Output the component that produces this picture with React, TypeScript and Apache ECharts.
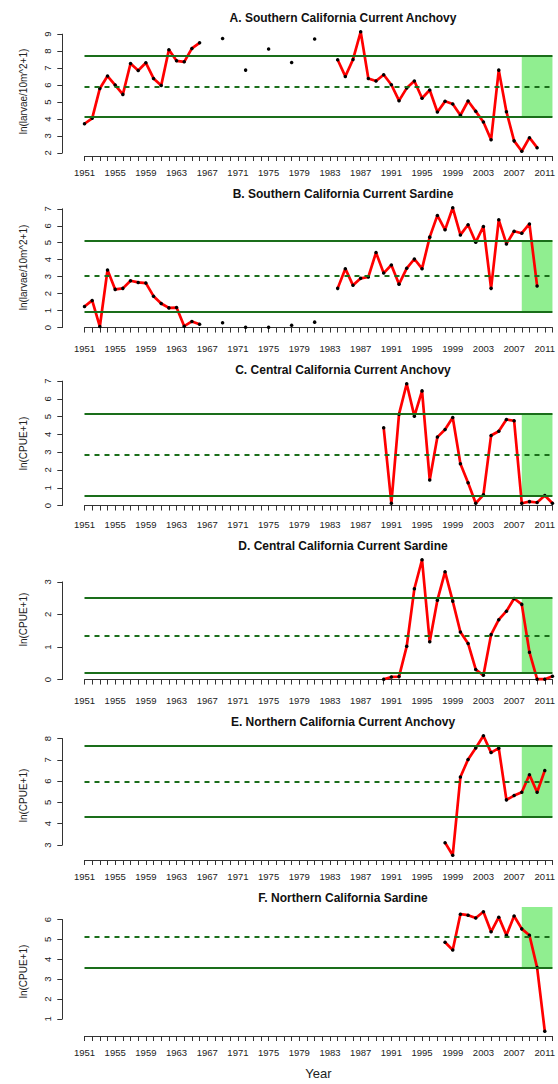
import { useEffect, useRef } from "react";
import * as echarts from "echarts";

// ---- panel texts ----
const panelTitles = [
  "A. Southern California Current Anchovy",
  "B. Southern California Current Sardine",
  "C. Central California Current Anchovy",
  "D. Central California Current Sardine",
  "E. Northern California Current Anchovy",
  "F. Northern California Sardine",
];
const yAxisTitles = [
  "ln(larvae/10m^2+1)",
  "ln(larvae/10m^2+1)",
  "ln(CPUE+1)",
  "ln(CPUE+1)",
  "ln(CPUE+1)",
  "ln(CPUE+1)",
];

// ---- survey years and index values ----
const yearsSouth = [
  1951, 1952, 1953, 1954, 1955, 1956, 1957, 1958, 1959, 1960, 1961, 1962, 1963, 1964, 1965, 1966,
  1969, 1972, 1975, 1978, 1981,
  1984, 1985, 1986, 1987, 1988, 1989, 1990, 1991, 1992, 1993, 1994, 1995, 1996, 1997, 1998, 1999,
  2000, 2001, 2002, 2003, 2004, 2005, 2006, 2007, 2008, 2009, 2010,
];
const anchovySouth = [
  3.72, 4.04, 5.8, 6.53, 6.0, 5.45, 7.27, 6.86, 7.31, 6.39, 5.98, 8.08, 7.43, 7.37, 8.16, 8.49,
  8.75, 6.88, 8.12, 7.33, 8.71,
  7.49, 6.51, 7.51, 9.14, 6.39, 6.24, 6.61, 6.02, 5.08, 5.82, 6.24, 5.22, 5.71, 4.41, 5.04, 4.88,
  4.22, 5.06, 4.45, 3.82, 2.78, 6.88, 4.43, 2.71, 2.1, 2.9, 2.31,
];
const sardineSouth = [
  1.24, 1.6, 0.06, 3.39, 2.25, 2.31, 2.76, 2.66, 2.62, 1.85, 1.42, 1.16, 1.18, 0.08, 0.36, 0.2,
  0.28, 0.02, 0.02, 0.14, 0.32,
  2.31, 3.47, 2.49, 2.9, 2.98, 4.42, 3.21, 3.69, 2.56, 3.49, 4.04, 3.47, 5.33, 6.61, 5.76, 7.06,
  5.46, 6.06, 5.03, 5.96, 2.31, 6.35, 4.93, 5.68, 5.56, 6.11, 2.45,
];

const yearsCentral = [
  1990, 1991, 1992, 1993, 1994, 1995, 1996, 1997, 1998, 1999, 2000, 2001, 2002, 2003, 2004, 2005,
  2006, 2007, 2008, 2009, 2010, 2011, 2012,
];
const anchovyCentral = [
  4.37, 0.13, 5.14, 6.85, 5.03, 6.45, 1.44, 3.85, 4.28, 4.95, 2.35, 1.28, 0.13, 0.6, 3.94, 4.18,
  4.84, 4.77, 0.13, 0.22, 0.17, 0.56, 0.13,
];
const sardineCentral = [
  0.01, 0.08, 0.09, 1.02, 2.79, 3.68, 1.16, 2.44, 3.31, 2.41, 1.46, 1.11, 0.31, 0.13, 1.38, 1.84,
  2.1, 2.49, 2.31, 0.84, 0.01, 0.01, 0.1,
];

const yearsNorth = [1998, 1999, 2000, 2001, 2002, 2003, 2004, 2005, 2006, 2007, 2008, 2009, 2010, 2011];
const anchovyNorth = [3.11, 2.52, 6.19, 7.02, 7.56, 8.13, 7.34, 7.55, 5.12, 5.32, 5.48, 6.3, 5.48, 6.5];
const sardineNorth = [4.86, 4.47, 6.27, 6.22, 6.08, 6.39, 5.38, 6.12, 5.21, 6.18, 5.53, 5.21, 3.58, 0.38];

const panelYears = [yearsSouth, yearsSouth, yearsCentral, yearsCentral, yearsNorth, yearsNorth];
const panelValues = [anchovySouth, sardineSouth, anchovyCentral, sardineCentral, anchovyNorth, sardineNorth];

// long-term mean and +/- 1 s.d. band of each index
const bandMean = [5.92, 3.04, 2.85, 1.355, 5.99, 5.13];
const bandLower = [4.12, 0.95, 0.53, 0.2, 4.33, 3.55];
const bandUpper = [7.73, 5.13, 5.18, 2.51, 7.64, 6.71];

// recent period highlighted in green
const recentStart = 2008;
const recentEnd = 2012;

const yearMin = 1951;
const yearMax = 2012;
const yearLabelStep = 4;

// ---- layout ----
const W = 558;
const H = 1084;
const AXIS_X = 62.3;
const PLOT_LEFT = 84.5;
const PLOT_RIGHT = 554.2;
const PLOT_TOP0 = 27;
const PLOT_PITCH = 176;
const PLOT_H = 129;
const TITLE_X = 343;

const FONT = "'Liberation Sans', Arial, Helvetica, sans-serif";
const INK = "#222";
const RED = "#ff0000";
const GREEN = "#1a6e1a";
const SHADE = "#90ee90";

// line broken wherever a year is skipped
function withBreaks(years: number[], values: number[]) {
  const out: (number | null)[][] = [];
  years.forEach((y, i) => {
    if (i > 0 && y - years[i - 1] > 1) out.push([y - 1, null]);
    out.push([y, values[i]]);
  });
  return out;
}

function buildOption() {
  const grid: any[] = [];
  const xAxis: any[] = [];
  const yAxis: any[] = [];
  const series: any[] = [];
  const graphic: any[] = [];

  panelValues.forEach((vals, i) => {
    const top = PLOT_TOP0 + PLOT_PITCH * i;
    const lo = Math.min(...vals);
    const hi = Math.max(...vals);
    const pad = (hi - lo) * 0.04;
    const u0 = lo - pad;
    const u1 = hi + pad;
    const t0 = Math.ceil(u0);
    const t1 = Math.floor(u1);
    const pxPerUnit = PLOT_H / (u1 - u0);
    const axisTop = top + (u1 - t1) * pxPerUnit;
    const axisH = (t1 - t0) * pxPerUnit;

    const gPlot = grid.length;
    grid.push({ left: PLOT_LEFT, width: PLOT_RIGHT - PLOT_LEFT, top, height: PLOT_H });
    const gAxis = grid.length;
    grid.push({ left: AXIS_X, width: 10, top: axisTop, height: axisH });

    const xPlot = xAxis.length;
    xAxis.push({
      gridIndex: gPlot,
      type: "value",
      min: yearMin,
      max: yearMax,
      interval: 1,
      axisLine: { show: true, lineStyle: { color: "#333", width: 1 } },
      axisTick: { show: true, length: 5, lineStyle: { color: "#333", width: 1 } },
      axisLabel: {
        show: true,
        margin: 11,
        fontSize: 9.5,
        fontFamily: FONT,
        color: INK,
        formatter: (v: number) => ((v - yearMin) % yearLabelStep === 0 ? String(v) : ""),
      },
      splitLine: { show: false },
      name: i === panelValues.length - 1 ? "Year" : "",
      nameLocation: "middle",
      nameGap: 31,
      nameTextStyle: { fontSize: 13, fontFamily: FONT, color: INK },
    });
    xAxis.push({ gridIndex: gAxis, type: "value", min: 0, max: 1, show: false });

    const yPlot = yAxis.length;
    yAxis.push({
      gridIndex: gPlot,
      type: "value",
      min: u0,
      max: u1,
      offset: PLOT_LEFT - AXIS_X,
      axisLine: { show: false },
      axisTick: { show: false },
      axisLabel: { show: false },
      splitLine: { show: false },
      name: yAxisTitles[i],
      nameLocation: "middle",
      nameGap: 34,
      nameTextStyle: { fontSize: 10, fontFamily: FONT, color: INK },
    });
    yAxis.push({
      gridIndex: gAxis,
      type: "value",
      min: t0,
      max: t1,
      interval: 1,
      axisLine: { show: true, lineStyle: { color: "#333", width: 1 } },
      axisTick: { show: true, length: 5, lineStyle: { color: "#333", width: 1 } },
      axisLabel: { show: true, rotate: 90, margin: 10, fontSize: 9.5, fontFamily: FONT, color: INK },
      splitLine: { show: false },
    });

    // shaded recent period between the band limits
    series.push({
      type: "line",
      xAxisIndex: xPlot,
      yAxisIndex: yPlot,
      data: [],
      silent: true,
      z: 1,
      markArea: {
        silent: true,
        itemStyle: { color: SHADE, opacity: 1 },
        data: [
          [
            { xAxis: recentStart, yAxis: Math.max(bandLower[i], u0) },
            { xAxis: recentEnd, yAxis: Math.min(bandUpper[i], u1) },
          ],
        ],
      },
    });

    // mean (dashed) and +/- 1 s.d. (solid) reference lines
    const bands = [
      { v: bandLower[i], dash: false },
      { v: bandMean[i], dash: true },
      { v: bandUpper[i], dash: false },
    ].filter((b) => b.v >= u0 && b.v <= u1);
    series.push({
      type: "line",
      xAxisIndex: xPlot,
      yAxisIndex: yPlot,
      data: [],
      silent: true,
      z: 2,
      markLine: {
        silent: true,
        symbol: "none",
        label: { show: false },
        animation: false,
        data: bands.map((b) => ({
          yAxis: b.v,
          lineStyle: { color: GREEN, width: 2, type: b.dash ? [5, 5] : "solid" },
        })),
      },
    });

    // index time series
    series.push({
      type: "line",
      xAxisIndex: xPlot,
      yAxisIndex: yPlot,
      data: withBreaks(panelYears[i], vals),
      connectNulls: false,
      z: 3,
      symbol: "circle",
      symbolSize: 3.5,
      showSymbol: true,
      lineStyle: { color: RED, width: 2.7 },
      itemStyle: { color: "#000" },
      silent: true,
    });

    graphic.push({
      type: "text",
      x: TITLE_X,
      y: top - 9.5,
      silent: true,
      style: {
        text: panelTitles[i],
        fill: "#111",
        font: `bold 12px ${FONT}`,
        align: "center",
        verticalAlign: "middle",
      },
    });
  });

  return {
    animation: false,
    backgroundColor: "#fff",
    grid,
    xAxis,
    yAxis,
    series,
    graphic,
  };
}

export default function App() {
  const ref = useRef<HTMLDivElement>(null);
  useEffect(() => {
    document.body.style.margin = "0";
    if (!ref.current) return;
    const chart = echarts.init(ref.current, undefined, { renderer: "svg" });
    chart.setOption(buildOption());
    return () => chart.dispose();
  }, []);
  return (
    <div
      ref={ref}
      style={{ position: "absolute", left: 0, top: 0, width: W, height: H, background: "#fff" }}
    />
  );
}
